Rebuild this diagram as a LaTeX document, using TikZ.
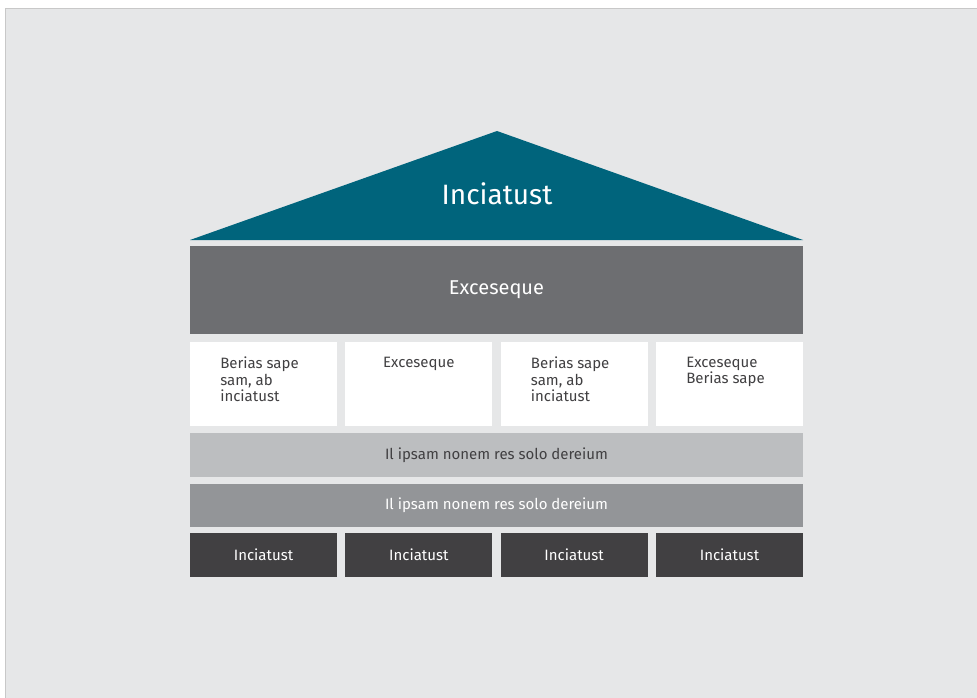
\documentclass[tikz,border=0pt]{standalone}
\usepackage{fontspec}
\setmainfont{Fira Sans}
\usetikzlibrary{positioning}
\definecolor{petrol}{HTML}{00647C}
\definecolor{ashgray}{HTML}{6D6E71}
\definecolor{palegray}{HTML}{BCBEC0}
\definecolor{midgray}{HTML}{939598}
\definecolor{coal}{HTML}{414042}
\definecolor{canvas}{HTML}{E6E7E8}
\definecolor{rim}{HTML}{C8C8C8}

\begin{document}
\begin{tikzpicture}[x=1pt, y=-1pt, every node/.style={inner sep=0pt, outer sep=0pt},
  hallband/.style={rectangle, fill=ashgray, text=white, minimum width=613pt, minimum height=88pt, font=\fontsize{20}{24}\selectfont},
  pillar/.style={rectangle, fill=white, minimum width=147pt, minimum height=84pt},
  pillartext/.style={anchor=north, align=left, text=coal, font=\fontsize{15}{16.5}\selectfont},
  floorband/.style={rectangle, minimum width=613pt, minimum height=44pt, font=\fontsize{15}{18}\selectfont},
  footbox/.style={rectangle, fill=coal, text=white, minimum width=147pt, minimum height=44pt, font=\fontsize{15}{18}\selectfont}]

\useasboundingbox (0,0) rectangle (977,698);

% Background sheet
\fill[white] (0,0) rectangle (977,698);
\fill[canvas] (5,9) rectangle (977,698);
\draw[rim, line width=1pt] (5,698) -- (5,9) -- (977,9);

% Roof
\fill[petrol] (190,240) -- (497,131) -- (803,240) -- cycle;
\node[text=white, font=\fontsize{28}{33}\selectfont] (roof) at (497,193.5) {Inciatust};

% Main band
\node[hallband, anchor=north west] (hall) at (190,246) {Exceseque};

% Pillars
\node[pillar, anchor=north west] (p1) at (190,342) {};
\node[pillar, right=8.33pt of p1] (p2) {};
\node[pillar, right=8.33pt of p2] (p3) {};
\node[pillar, right=8.33pt of p3] (p4) {};
\node[pillartext] (t1) at ([xshift=-4pt, yshift=-15pt]p1.north) {Berias sape\\sam, ab\\inciatust};
\node[pillartext] (t2) at ([yshift=-15pt]p2.north) {Exceseque};
\node[pillartext] (t3) at ([xshift=-4pt, yshift=-15pt]p3.north) {Berias sape\\sam, ab\\inciatust};
\node[pillartext] (t4) at ([xshift=-4pt, yshift=-15pt]p4.north) {Exceseque\\Berias sape};

% Floor bands
\node[floorband, fill=palegray, text=coal, anchor=north west] (f1) at (190,433) {Il ipsam nonem res solo dereium};
\node[floorband, fill=midgray, text=white, minimum height=43pt, below=7pt of f1] (f2) {Il ipsam nonem res solo dereium};

% Foundation
\node[footbox, anchor=north west] (b1) at (190,533) {Inciatust};
\node[footbox, right=8.33pt of b1] (b2) {Inciatust};
\node[footbox, right=8.33pt of b2] (b3) {Inciatust};
\node[footbox, right=8.33pt of b3] (b4) {Inciatust};

\end{tikzpicture}
\end{document}
